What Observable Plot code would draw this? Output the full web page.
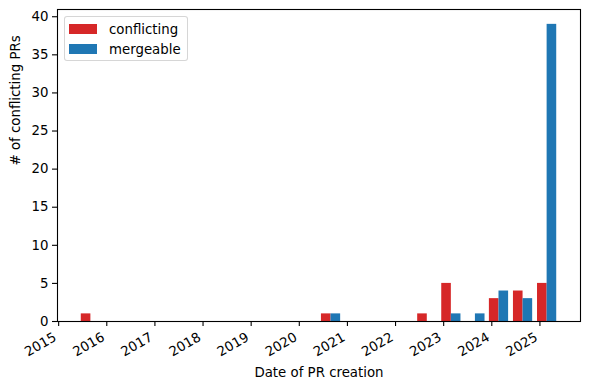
<!DOCTYPE html>
<html>
<head>
<meta charset="utf-8">
<script src="https://cdn.jsdelivr.net/npm/d3@7"></script>
<script src="https://cdn.jsdelivr.net/npm/@observablehq/plot@0.6"></script>
<style>
  html, body { margin: 0; padding: 0; background: #fff; }
  #wrap { position: relative; width: 590px; height: 389px; font-family: "DejaVu Sans", sans-serif; color: #000; }
  #legend { position: absolute; left: 64px; top: 16px; width: 124px; height: 45px; box-sizing: border-box;
    border: 1px solid rgba(204,204,204,0.8); border-radius: 3px; background: rgba(255,255,255,0.8); font-size: 13.33px; }
  .item { position: absolute; left: 4px; height: 16px; display: flex; align-items: center; }
  .sw { width: 28px; height: 10px; margin-right: 12px; }
</style>
</head>
<body>
<div id="wrap"></div>
<script>
// Histogram bins (start year, as fractional year) that hold data; bin width in years
const binStartYears = [2015.42, 2020.41, 2022.41, 2022.91, 2023.41, 2023.90, 2024.40, 2024.90];
const binWidth = 0.499;
const conflicting = [1, 1, 1, 5, 0, 3, 4, 5];
const mergeable   = [0, 1, 0, 1, 1, 4, 3, 39];
const seriesNames = ["conflicting", "mergeable"];
const seriesColors = ["#d62728", "#1f77b4"];
const yearTicks = [2015, 2016, 2017, 2018, 2019, 2020, 2021, 2022, 2023, 2024, 2025];
const yTicks = [0, 5, 10, 15, 20, 25, 30, 35, 40];

const seriesValues = [conflicting, mergeable];
const rows = [];
binStartYears.forEach((s, i) => {
  seriesValues.forEach((vals, k) => {
    const x1 = s + binWidth * (0.1 + 0.4 * k);
    rows.push({series: seriesNames[k], x1, x2: x1 + 0.4 * binWidth, count: vals[i]});
  });
});
const bars = rows.filter(r => r.count > 0);

// matplotlib-like 5% margins on data limits
const xmin = d3.min(rows, r => r.x1), xmax = d3.max(rows, r => r.x2);
const xpad = (xmax - xmin) * 0.05;
const ymax = d3.max(rows, r => r.count) * 1.05;

const fs = 13.33;
const chart = Plot.plot({
  width: 590,
  height: 389,
  marginLeft: 57,
  marginRight: 10,
  marginTop: 9,
  marginBottom: 68,
  style: {fontFamily: "DejaVu Sans, sans-serif", fontSize: fs + "px", color: "#000", background: "#fff", overflow: "visible"},
  x: {type: "linear", domain: [xmin - xpad, xmax + xpad]},
  y: {domain: [0, ymax]},
  color: {domain: seriesNames, range: seriesColors},
  marks: [
    Plot.rectY(bars, {x1: "x1", x2: "x2", y1: 0, y2: "count", fill: "series"}),
    Plot.axisY({ticks: yTicks, tickSize: 5, tickPadding: 4, fontSize: fs, label: null, strokeWidth: 1.1}),
    Plot.axisX({ticks: yearTicks, tickSize: 5, tickFormat: () => "", label: null, strokeWidth: 1.1}),
    Plot.text(yearTicks, {x: d => d, text: d => String(d), frameAnchor: "bottom", rotate: -30,
      textAnchor: "end", lineAnchor: "top", dx: -6, dy: 10, fontSize: fs, fill: "#000"}),
    Plot.text(["Date of PR creation"], {frameAnchor: "bottom", text: d => d, lineAnchor: "middle", dy: 51, fontSize: fs, fill: "#000"}),
    Plot.text(["# of conflicting PRs"], {frameAnchor: "left", text: d => d, rotate: -90, lineAnchor: "middle", dx: -42, fontSize: fs, fill: "#000"}),
    Plot.frame({stroke: "#000", strokeWidth: 1.1})
  ]
});
const wrap = document.getElementById("wrap");
wrap.appendChild(chart);

const legend = document.createElement("div");
legend.id = "legend";
seriesNames.forEach((name, k) => {
  const item = document.createElement("div");
  item.className = "item";
  item.style.top = (4 + k * 20) + "px";
  const sw = document.createElement("div");
  sw.className = "sw";
  sw.style.background = seriesColors[k];
  const label = document.createElement("span");
  label.textContent = name;
  item.appendChild(sw);
  item.appendChild(label);
  legend.appendChild(item);
});
wrap.appendChild(legend);
</script>
</body>
</html>
